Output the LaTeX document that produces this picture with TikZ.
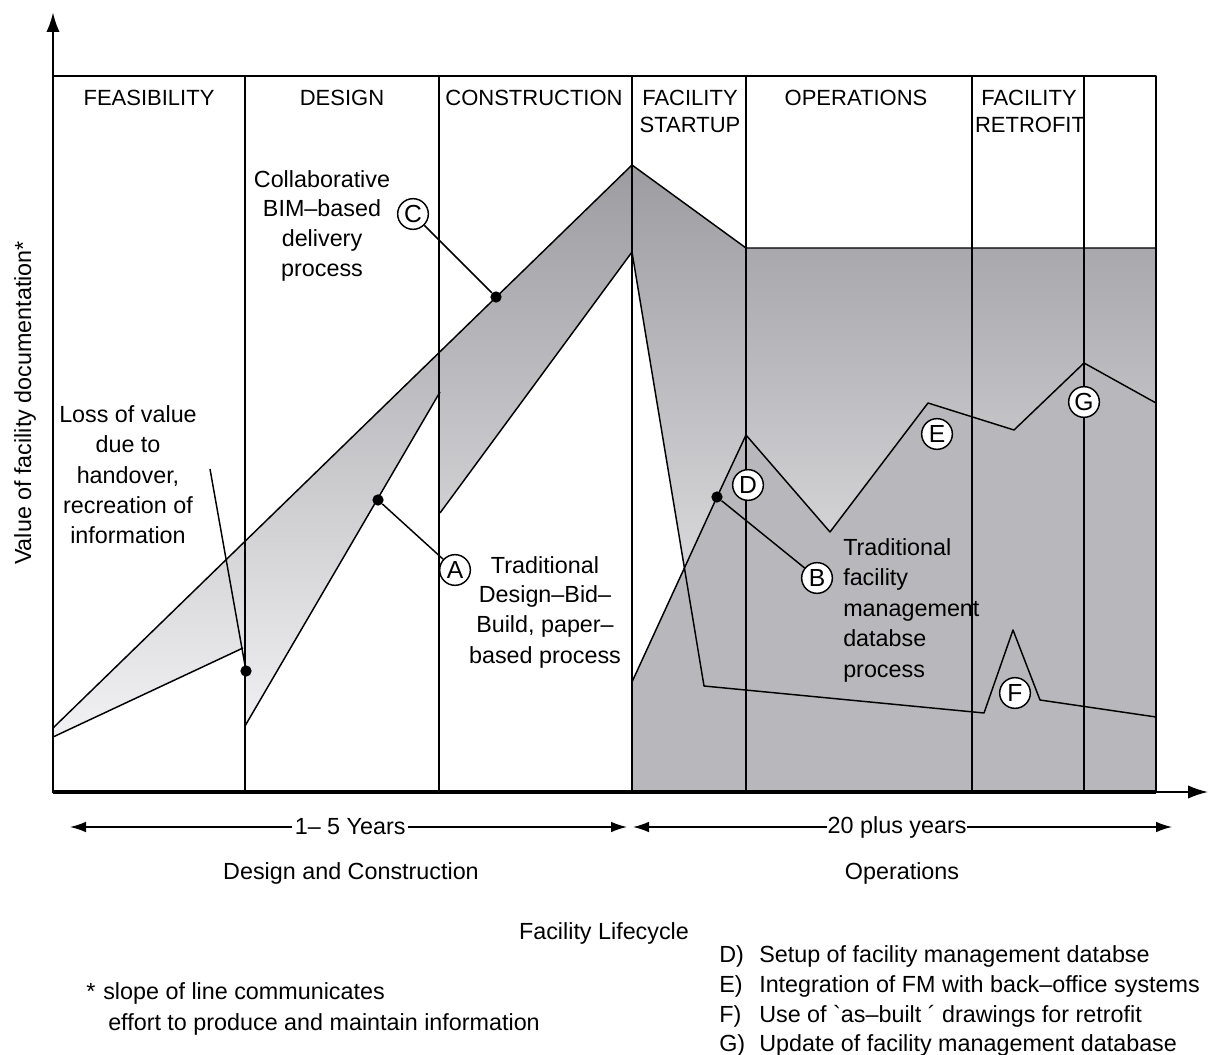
\documentclass[tikz,border=0pt]{standalone}
\usepackage{fontspec}
\setmainfont{Liberation Sans}
\usetikzlibrary{arrows.meta}
\definecolor{shTop}{HTML}{9C9CA1}
\definecolor{shMid}{HTML}{D0D0D4}
\definecolor{shBot}{HTML}{F2F2F4}
\definecolor{opsGray}{HTML}{B8B8BC}
\begin{document}
\begin{tikzpicture}[x=0.75pt,y=-0.75pt,
  thinline/.style={line width=1.1pt, black, line join=round},
  hdr/.style={font=\fontsize{16.5}{20}\selectfont, anchor=base, inner sep=0},
  txt/.style={font=\fontsize{17.5}{22}\selectfont, anchor=base, inner sep=0},
  txtw/.style={font=\fontsize{17.5}{22}\selectfont, anchor=base west, inner sep=0},
  lbl/.style={circle, draw, line width=1.1pt, fill=white, minimum size=23pt, inner sep=0, font=\fontsize{18.5}{20}\selectfont},
  blackdot/.style={circle, fill=black, minimum size=8.5pt, inner sep=0},
  dimarrow/.style={line width=1.1pt, {Latex[length=12pt,width=8pt]}-{Latex[length=12pt,width=8pt]}}
]
\useasboundingbox (0,0) rectangle (1228,1055);

% shaded bands (common vertical gradient)
\begin{scope}
\clip (53,728) -- (245,541.3) -- (245,648) -- (53,737) -- cycle
      (245,541.3) -- (440,351.7) -- (440,392) -- (245,726) -- cycle
      (440,351.7) -- (632,165) -- (632,252) -- (440,513) -- cycle
      (632,165) -- (746,248) -- (1156,248) -- (1156,792) -- (632,792) -- (632,682) -- (684.4,568) -- (632,252) -- cycle;
\shade[top color=shTop, middle color=shMid, bottom color=shBot] (40,165) rectangle (1170,740);
\end{scope}
% uniform gray below the FM line
\fill[opsGray] (632,682) -- (717,497) -- (746,435) -- (830,532) -- (928,403) -- (1014,430) -- (1084,363) -- (1156,403) -- (1156,792) -- (632,792) -- cycle;

% grid
\foreach \xx in {245,439,632,746,972,1084} \draw[thinline] (\xx,76) -- (\xx,792);
\draw[thinline] (53,76) -- (1156,76) -- (1156,792);

% curves
\draw[thinline] (53,728) -- (632,165) -- (746,248) -- (1156,248);
\draw[thinline] (53,737) -- (243,648);
\draw[thinline] (245,726) -- (440,392);
\draw[thinline] (440,513) -- (632,252) -- (704,686) -- (984,713) -- (1013,630) -- (1040,700) -- (1156,717);
\draw[thinline] (632,682) -- (717,497) -- (746,435) -- (830,532) -- (928,403) -- (1014,430) -- (1084,363) -- (1156,403);

% axes
\draw[line width=2pt, -{Latex[length=15pt,width=10pt]}] (53,793) -- (53,12);
\draw[line width=2.4pt] (53,792) -- (1156,792);
\draw[line width=1.3pt, -{Latex[length=15pt,width=10pt]}] (1156,792) -- (1208,792);

% dots
\node[blackdot] (d1) at (246,671) {};
\node[blackdot] (d2) at (378,500) {};
\node[blackdot] (d3) at (496,297) {};
\node[blackdot] (d4) at (717,497) {};
\coordinate (lossTop) at (210,469);

% circle labels
\node[lbl] (cA) at (455,570) {A};
\node[lbl] (cB) at (817,578) {B};
\node[lbl] (cC) at (413,214) {C};
\node[lbl] (cD) at (748,485) {D};
\node[lbl] (cE) at (937,434) {E};
\node[lbl] (cF) at (1015,693) {F};
\node[lbl] (cG) at (1084,402) {G};

% connectors
\draw[thinline] (lossTop) -- (d1);
\draw[thinline] (cC) -- (d3);
\draw[thinline] (d2) -- (cA);
\draw[thinline] (d4) -- (cB);

% headers
\node[hdr] (hFea) at (149,106) {FEASIBILITY};
\node[hdr] (hDes) at (342,106) {DESIGN};
\node[hdr] (hCon) at (534,106) {CONSTRUCTION};
\node[hdr] (hFs1) at (690,106) {FACILITY};
\node[hdr] (hFs2) at (690,133) {STARTUP};
\node[hdr] (hOps) at (856,106) {OPERATIONS};
\node[hdr] (hFr1) at (1029,106) {FACILITY};
\node[hdr] (hFr2) at (1030,133) {RETROFIT};

% y label
\node[font=\fontsize{17.5}{22}\selectfont, rotate=90, inner sep=0] (ylab) at (25,403) {Value of facility documentation*};

% annotations
\node[txt] (c1) at (322,188) {Collaborative};
\node[txt] (c2) at (322,217) {BIM–based};
\node[txt] (c3) at (322,247) {delivery};
\node[txt] (c4) at (322,277) {process};

\node[txt] (l1) at (128,423) {Loss of value};
\node[txt] (l2) at (128,453) {due to};
\node[txt] (l3) at (128,483) {handover,};
\node[txt] (l4) at (128,513) {recreation of};
\node[txt] (l5) at (128,543) {information};

\node[txt] (a1) at (545,573) {Traditional};
\node[txt] (a2) at (545,602) {Design–Bid–};
\node[txt] (a3) at (545,632) {Build, paper–};
\node[txt] (a4) at (545,663) {based process};

\node[txtw] (b1) at (843,555) {Traditional};
\node[txtw] (b2) at (843,585) {facility};
\node[txtw] (b3) at (843,616) {management};
\node[txtw] (b4) at (843,646) {databse};
\node[txtw] (b5) at (843,677) {process};

% bottom
\draw[dimarrow] (70,827) -- node[fill=white, inner sep=2pt, font=\fontsize{17.5}{22}\selectfont, pos=0.503] (yr1) {1– 5 Years} (627,827);
\draw[dimarrow] (633,827) -- node[fill=white, inner sep=0.5pt, font=\fontsize{17.5}{22}\selectfont, pos=0.49] (yr2) {20 plus years} (1172,827);
\node[txt] (bDC) at (351,879) {Design and Construction};
\node[txt] (bOp) at (902,879) {Operations};
\node[txt] (bFL) at (604,939) {Facility Lifecycle};
\node[txtw] (n1) at (86,999) {*\hspace{6pt}slope of line communicates};
\node[txtw] (n2) at (108,1030) {effort to produce and maintain information};

\node[txtw] (gD) at (719,962) {\makebox[30pt][l]{D)}Setup of facility management databse};
\node[txtw] (gE) at (719,992) {\makebox[30pt][l]{E)}Integration of FM with back–office systems};
\node[txtw] (gF) at (719,1022) {\makebox[30pt][l]{F)}Use of \textasciigrave as–built ´ drawings for retrofit};
\node[txtw] (gG) at (719,1051) {\makebox[30pt][l]{G)}Update of facility management database};
\end{tikzpicture}
\end{document}
